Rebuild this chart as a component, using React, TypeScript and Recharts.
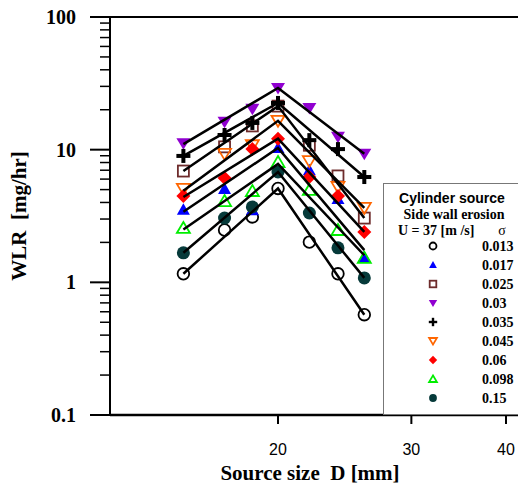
import React from 'react';
import { ScatterChart, Scatter, XAxis, YAxis, Legend, ReferenceLine } from 'recharts';

// source sizes D [mm] where WLR was measured, and the ends/peak of the fit lines
const SOURCE_SIZES = [15, 17, 18.5, 20, 22, 24, 26];
const FIT_SIZES = [15, 20, 26];

const X_TICKS = [20, 30, 40];
const Y_MAJOR = [0.1, 1, 10, 100];
const Y_TICKS = [
  0.1, 0.2, 0.3, 0.4, 0.5, 0.6, 0.7, 0.8, 0.9,
  1, 2, 3, 4, 5, 6, 7, 8, 9,
  10, 20, 30, 40, 50, 60, 70, 80, 90, 100,
];

// WLR [mg/hr] per sigma
const WLR_013 = [1.16, 2.48, 3.11, 5.1, 2.01, 1.16, 0.57];
const WLR_017 = [3.52, 5.06, 3.5, 10.3, 7.0, 4.25, 1.55];
const WLR_025 = [6.9, 10.5, 15.1, 21.3, 10.8, 6.34, 3.05];
const WLR_030 = [11.2, 16.2, 20.3, 29.2, 20.6, 12.5, 9.3];
const WLR_035 = [8.97, 12.9, 15.9, 22.5, 11.8, 10.1, 6.22];
const WLR_045 = [5.06, 9.3, 10.8, 16.5, 8.2, 5.24, 3.64];
const WLR_060 = [4.48, 6.12, 10.1, 12.1, 6.23, 4.48, 2.4];
const WLR_098 = [2.57, 4.1, 4.88, 8.07, 4.97, 2.48, 1.53];
const WLR_150 = [1.67, 3.05, 3.7, 6.79, 3.33, 1.82, 1.08];

// fitted lines: value at 15, 20 (peak) and 26 mm
const FIT_013 = [1.16, 5.1, 0.57];
const FIT_017 = [3.4, 10.3, 1.75];
const FIT_025 = [6.9, 21.3, 3.05];
const FIT_030 = [11.0, 29.2, 9.3];
const FIT_035 = [8.97, 22.5, 6.22];
const FIT_045 = [4.9, 16.5, 3.64];
const FIT_060 = [4.4, 12.1, 2.4];
const FIT_098 = [2.5, 7.8, 1.6];
const FIT_150 = [1.67, 6.79, 1.08];

const SIGMA_LABELS = ['0.013', '0.017', '0.025', '0.03', '0.035', '0.045', '0.06', '0.098', '0.15'];
const MARKERS = ['circleOpen', 'triUp', 'square', 'triDown', 'plus', 'triDownOpen', 'diamond', 'triUpOpen', 'circle'];
const COLORS = ['#000000', '#0000ff', '#6e2c2c', '#9000d0', '#000000', '#ff6600', '#ff0000', '#00ee00', '#063a3a'];

const WLR = [WLR_013, WLR_017, WLR_025, WLR_030, WLR_035, WLR_045, WLR_060, WLR_098, WLR_150];
const FITS = [FIT_013, FIT_017, FIT_025, FIT_030, FIT_035, FIT_045, FIT_060, FIT_098, FIT_150];

const SERIF = '"Liberation Serif", "Times New Roman", serif';
const SANS = '"Liberation Sans", Arial, sans-serif';

const Marker = ({ kind, color, cx, cy, s = 1 }: { kind: string; color: string; cx: number; cy: number; s?: number }) => {
  const w = 1.8;
  switch (kind) {
    case 'circleOpen':
      return <circle cx={cx} cy={cy} r={5.8 * s} fill="none" stroke={color} strokeWidth={w} />;
    case 'circle':
      return <circle cx={cx} cy={cy} r={6.5 * s} fill={color} />;
    case 'triUp':
      return <polygon points={`${cx},${cy - 6.5 * s} ${cx + 6.5 * s},${cy + 5 * s} ${cx - 6.5 * s},${cy + 5 * s}`} fill={color} />;
    case 'triUpOpen':
      return <polygon points={`${cx},${cy - 6 * s} ${cx + 6.5 * s},${cy + 5 * s} ${cx - 6.5 * s},${cy + 5 * s}`} fill="none" stroke={color} strokeWidth={w} />;
    case 'triDown':
      return <polygon points={`${cx - 7 * s},${cy - 5 * s} ${cx + 7 * s},${cy - 5 * s} ${cx},${cy + 6.5 * s}`} fill={color} />;
    case 'triDownOpen':
      return <polygon points={`${cx - 6.5 * s},${cy - 5 * s} ${cx + 6.5 * s},${cy - 5 * s} ${cx},${cy + 6 * s}`} fill="none" stroke={color} strokeWidth={w} />;
    case 'square':
      return <rect x={cx - 5.5 * s} y={cy - 5.5 * s} width={11 * s} height={11 * s} fill="none" stroke={color} strokeWidth={w} />;
    case 'diamond':
      return <polygon points={`${cx},${cy - 7 * s} ${cx + 7 * s},${cy} ${cx},${cy + 7 * s} ${cx - 7 * s},${cy}`} fill={color} />;
    case 'plus':
      return (
        <g fill={color}>
          <rect x={cx - 7 * s} y={cy - 2 * s} width={14 * s} height={4 * s} />
          <rect x={cx - 2 * s} y={cy - 7 * s} width={4 * s} height={14 * s} />
        </g>
      );
    default:
      return <g />;
  }
};

const YTick = (props: any) => {
  const { x, y, payload } = props;
  const major = Y_MAJOR.includes(payload.value);
  return (
    <g>
      <line x1={x - (major ? 20 : 10)} x2={x} y1={y} y2={y} stroke="#000" strokeWidth={major ? 2 : 1.5} />
      {major && (
        <text x={x - 34} y={y} dy="0.35em" textAnchor="end" fontFamily={SERIF} fontWeight="bold" fontSize={20} fill="#000">
          {payload.value}
        </text>
      )}
    </g>
  );
};

const LegendBox = () => (
  <svg width={140} height={232} style={{ display: 'block' }}>
    <rect x={0.5} y={0.5} width={150} height={231} fill="#fff" stroke="#777" strokeWidth={1} />
    <text x={69} y={20} textAnchor="middle" fontFamily={SANS} fontWeight="bold" fontSize={14}>Cylinder source</text>
    <text x={71} y={36} textAnchor="middle" fontFamily={SERIF} fontWeight="bold" fontSize={14}>Side wall erosion</text>
    <text x={15} y={52} fontFamily={SERIF} fontWeight="bold" fontSize={14} style={{ whiteSpace: 'pre' }}>U = 37 [m /s]</text>
    <text x={119} y={52} textAnchor="middle" fontFamily={SERIF} fontSize={14}>σ</text>
    {SIGMA_LABELS.map((label, i) => (
      <g key={label}>
        <Marker kind={MARKERS[i]} color={COLORS[i]} cx={50} cy={63 + 19 * i} s={0.6} />
        <text x={99} y={68 + 19 * i} fontFamily={SERIF} fontWeight="bold" fontSize={14}>{label}</text>
      </g>
    ))}
  </svg>
);

export default function App() {
  return (
    <div style={{ position: 'absolute', left: 0, top: 0, width: 518, height: 484, overflow: 'hidden', background: '#fff' }}>
      <ScatterChart width={530} height={484} margin={{ top: 17, right: 0, bottom: 0, left: 0 }}>
        <XAxis
          type="number"
          dataKey="x"
          scale="log"
          domain={[12, 43.03]}
          allowDataOverflow
          ticks={X_TICKS}
          interval={0}
          height={69}
          tickSize={9}
          tickMargin={20}
          axisLine={{ stroke: '#000', strokeWidth: 2.5 }}
          tickLine={{ stroke: '#000', strokeWidth: 2 }}
          tick={{ fill: '#000', fontSize: 16, fontFamily: SANS }}
          label={(p: any) => (
            <text
              x={p.viewBox.x + 200}
              y={p.viewBox.y + 65}
              textAnchor="middle"
              fontFamily={SERIF}
              fontWeight="bold"
              fontSize={21}
              style={{ whiteSpace: 'pre' }}
            >
              Source size  D [mm]
            </text>
          )}
        />
        <YAxis
          type="number"
          dataKey="y"
          scale="log"
          domain={[0.1, 100]}
          allowDataOverflow
          ticks={Y_TICKS}
          interval={0}
          width={110}
          tickSize={0}
          tickMargin={0}
          tickLine={false}
          axisLine={{ stroke: '#000', strokeWidth: 2 }}
          tick={<YTick />}
          label={(p: any) => (
            <text
              x={26}
              y={p.viewBox.y + p.viewBox.height / 2}
              transform={`rotate(-90, 26, ${p.viewBox.y + p.viewBox.height / 2})`}
              textAnchor="middle"
              fontFamily={SERIF}
              fontWeight="bold"
              fontSize={21}
              style={{ whiteSpace: 'pre' }}
            >
              WLR  [mg/hr]
            </text>
          )}
        />
        <ReferenceLine y={100} stroke="#000" strokeWidth={2} />
        {WLR.map((vals, i) => (
          <Scatter
            key={`pts-${i}`}
            name={SIGMA_LABELS[i]}
            data={SOURCE_SIZES.map((d, j) => ({ x: d, y: vals[j] }))}
            fill={COLORS[i]}
            shape={(p: any) => <Marker kind={MARKERS[i]} color={COLORS[i]} cx={p.cx} cy={p.cy} />}
            isAnimationActive={false}
          />
        ))}
        {FITS.map((vals, i) => (
          <Scatter
            key={`fit-${i}`}
            name={`fit ${SIGMA_LABELS[i]}`}
            legendType="none"
            data={FIT_SIZES.map((d, j) => ({ x: d, y: vals[j] }))}
            line={{ stroke: '#000', strokeWidth: 2.5 }}
            shape={() => <g />}
            isAnimationActive={false}
          />
        ))}
        <Legend
          layout="horizontal"
          verticalAlign="middle"
          align="center"
          content={() => <LegendBox />}
          wrapperStyle={{ left: 383, top: 183, width: 140, height: 232 }}
        />
      </ScatterChart>
    </div>
  );
}
